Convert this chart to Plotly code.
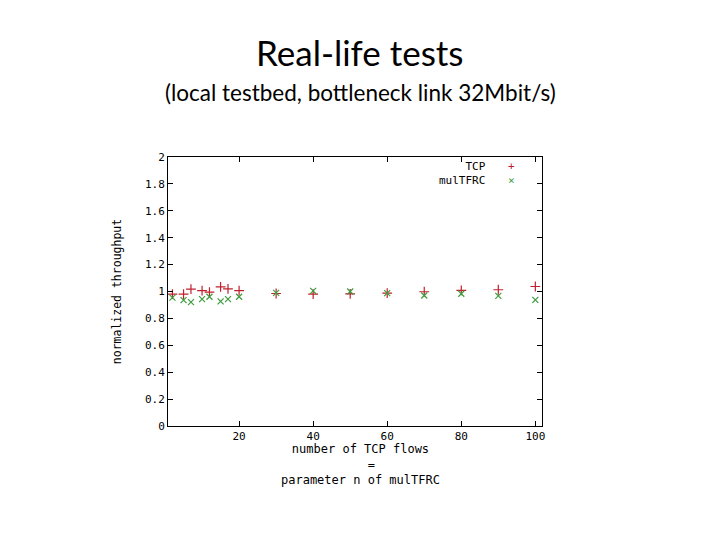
import plotly.graph_objects as go

flows = [2, 5, 7, 10, 12, 15, 17, 20, 30, 40, 50, 60, 70, 80, 90, 100]
tcp = [0.981, 0.981, 1.018, 1.007, 0.996, 1.035, 1.020, 1.007, 0.985, 0.980, 0.983, 0.988, 0.998, 1.008, 1.013, 1.037]
multfrc = [0.955, 0.936, 0.921, 0.943, 0.961, 0.926, 0.943, 0.961, 0.990, 1.005, 1.000, 0.988, 0.970, 0.983, 0.968, 0.938]

x_ticks = [20, 40, 60, 80, 100]
y_ticks = [0, 0.2, 0.4, 0.6, 0.8, 1, 1.2, 1.4, 1.6, 1.8, 2]
y_tick_text = ["0", "0.2", "0.4", "0.6", "0.8", "1", "1.2", "1.4", "1.6", "1.8", "2"]
x_title_lines = ["number of TCP flows", "\u00a0\u00a0\u00a0=", "parameter n of mulTFRC"]

RED = "#c0202c"
GREEN = "#3c9c3c"
MONO = "DejaVu Sans Mono"

fig = go.Figure()
fig.add_trace(go.Scatter(x=flows, y=tcp, mode="markers", name="TCP",
                         marker=dict(symbol="cross-thin", size=7, line=dict(color=RED, width=1.2), color=RED)))
fig.add_trace(go.Scatter(x=flows, y=multfrc, mode="markers", name="mulTFRC",
                         marker=dict(symbol="x-thin", size=6, line=dict(color=GREEN, width=1.2), color=GREEN)))

axis_common = dict(showgrid=False, zeroline=False, showline=True, linecolor="black", linewidth=1,
                   mirror="allticks", ticks="inside", ticklen=5, tickcolor="black", automargin=False,
                   tickfont=dict(family=MONO, size=11, color="black"))

fig.update_xaxes(range=[0.8, 101.8], tickvals=x_ticks, ticktext=[str(v) for v in x_ticks],
                 **axis_common)
fig.update_yaxes(range=[0, 2], tickvals=y_ticks, ticktext=y_tick_text,
                 title=dict(text="normalized throughput", font=dict(family=MONO, size=11.5, color="black"), standoff=20),
                 **axis_common)

# the page body adds an 8px offset; work in figure pixels = reference pixels - 8
OFF = 8
W, H = 720 - OFF, 540 - OFF
L, T = 168 - OFF, 157 - OFF
R = W - (542 - OFF)
B = H - (426 - OFF)
pw, ph = W - L - R, H - T - B

def px(x):
    return (x - OFF - L) / pw

def py(y):
    return (H - B - (y - OFF)) / ph

annotations = [
    dict(text="Real-life tests", x=px(360), y=py(52), xref="paper", yref="paper", showarrow=False,
         yanchor="middle", font=dict(family="Lato", size=35, color="black")),
    dict(text="(local testbed, bottleneck link 32Mbit/s)", x=px(360), y=py(92), xref="paper", yref="paper",
         showarrow=False, yanchor="middle", font=dict(family="Lato", size=22.5, color="black")),
    dict(text="TCP<br>mulTFRC", x=px(488), y=py(173), xref="paper", yref="paper", showarrow=False,
         xanchor="right", yanchor="middle", align="right", font=dict(family=MONO, size=11, color="black")),
    dict(text=f"<span style='color:{RED}'>+</span><br><span style='color:{GREEN}'>×</span>",
         x=px(511), y=py(173), xref="paper", yref="paper", showarrow=False,
         xanchor="center", yanchor="middle", font=dict(family=MONO, size=11, color="black")),
    dict(text="<br>".join(x_title_lines), x=px(360), y=py(464), xref="paper", yref="paper",
         showarrow=False, xanchor="center", yanchor="middle", align="center",
         font=dict(family=MONO, size=12, color="black")),
]

fig.update_layout(width=W, height=H, margin=dict(l=L, r=R, t=T, b=B),
                  paper_bgcolor="white", plot_bgcolor="white", showlegend=False,
                  annotations=annotations)

fig.write_html("out.html")
